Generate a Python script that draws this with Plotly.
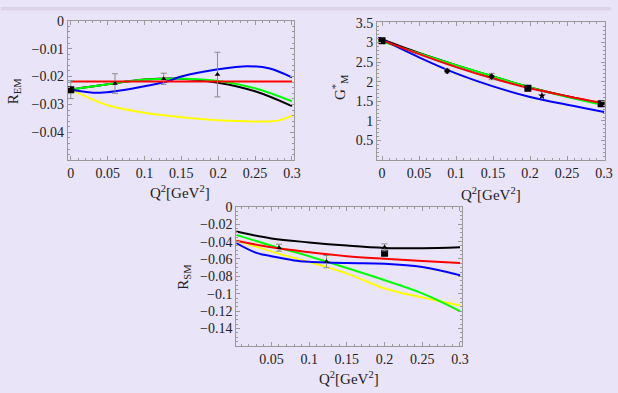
import plotly.graph_objects as go

# ---------------- data ----------------
# Panel 1: R_EM
q1 = [0, 0.05, 0.1, 0.15, 0.2, 0.25, 0.3]
rem_black = [-0.0247, -0.0228, -0.0211, -0.0208, -0.0222, -0.0253, -0.0306]
rem_green = [-0.0247, -0.0228, -0.0211, -0.0208, -0.0216, -0.0242, -0.0289]
q1_blue = [0, 0.04, 0.1, 0.13, 0.15, 0.2, 0.24, 0.27, 0.3]
rem_blue = [-0.0247, -0.0258, -0.0235, -0.0218, -0.0200, -0.0174, -0.0163, -0.0171, -0.0203]
q1_yellow = [0, 0.05, 0.1, 0.15, 0.2, 0.25, 0.28, 0.3]
rem_yellow = [-0.0247, -0.0303, -0.0330, -0.0346, -0.0357, -0.0361, -0.0358, -0.0340]
q1_red = [0, 0.3]
rem_red = [-0.0218, -0.0218]
rem_sq_q = [0]
rem_sq_v = [-0.0247]
rem_sq_err = [0.0032]
rem_tri_q = [0.06, 0.126, 0.199]
rem_tri_v = [-0.0225, -0.0208, -0.0193]
rem_tri_err = [0.0035, 0.0020, 0.0080]

# Panel 2: G*_M
q2 = [-0.005, 0.05, 0.1, 0.15, 0.2, 0.25, 0.3]
gm_black = [3.11, 2.73, 2.42, 2.13, 1.85, 1.63, 1.43]
gm_green = [3.05, 2.72, 2.42, 2.13, 1.85, 1.61, 1.40]
gm_red = [3.09, 2.70, 2.37, 2.08, 1.83, 1.63, 1.45]
gm_blue = [3.12, 2.62, 2.21, 1.88, 1.61, 1.41, 1.23]
gm_sq_q = [0, 0.197, 0.296]
gm_sq_v = [3.04, 1.83, 1.44]
gm_pt_q = [0.088, 0.148]
gm_pt_v = [2.27, 2.13]
gm_pt_err = [0.05, 0.08]
gm_star_q = [0.216]
gm_star_v = [1.64]

# Panel 3: R_SM
q3 = [0.0033, 0.05, 0.1, 0.15, 0.2, 0.25, 0.3]
rsm_black = [-0.0284, -0.0363, -0.0409, -0.0446, -0.0473, -0.0477, -0.0466]
rsm_red = [-0.0390, -0.0466, -0.0522, -0.0568, -0.0598, -0.0624, -0.0647]
rsm_green = [-0.0322, -0.0447, -0.0568, -0.0704, -0.0844, -0.0995, -0.1200]
rsm_yellow = [-0.0383, -0.0515, -0.0636, -0.0768, -0.0939, -0.1044, -0.1135]
q3_blue = [0.0033, 0.03, 0.05, 0.08, 0.1, 0.15, 0.2, 0.25, 0.3]
rsm_blue = [-0.0417, -0.0530, -0.0568, -0.0617, -0.0632, -0.0647, -0.0655, -0.0693, -0.0787]
rsm_tri_q = [0.06, 0.123, 0.2]
rsm_tri_v = [-0.047, -0.063, -0.0466]
rsm_tri_err = [0.004, 0.007, 0.004]
rsm_sq_q = [0.2]
rsm_sq_v = [-0.0534]

# tick labels
x_ticks_a = [0, 0.05, 0.1, 0.15, 0.2, 0.25, 0.3]
x_text_a = ["0", "0.05", "0.1", "0.15", "0.2", "0.25", "0.3"]
x_ticks_b = [0.05, 0.1, 0.15, 0.2, 0.25, 0.3]
x_text_b = ["0.05", "0.1", "0.15", "0.2", "0.25", "0.3"]
y1_ticks = [0, -0.01, -0.02, -0.03, -0.04]
y1_text = ["0", "\u22120.01", "\u22120.02", "\u22120.03", "\u22120.04"]
y2_ticks = [0.5, 1, 1.5, 2, 2.5, 3, 3.5]
y2_text = ["0.5", "1", "1.5", "2", "2.5", "3", "3.5"]
y3_ticks = [0, -0.02, -0.04, -0.06, -0.08, -0.1, -0.12, -0.14]
y3_text = ["0", "\u22120.02", "\u22120.04", "\u22120.06", "\u22120.08", "\u22120.1", "\u22120.12", "\u22120.14"]

# ---------------- style ----------------
W, H = 618, 393
BG = "#EAE4F8"
BAND = "#DCD3EB"
FRAME = "#9A9A9A"
SERIF = "Liberation Serif"
LW = 2

def px_x(a, b):
    return [a / W, b / W]

def px_y(top, bot):
    return [1 - bot / H, 1 - top / H]

fig = go.Figure()

def curve(x, y, color, ax):
    fig.add_trace(go.Scatter(x=x, y=y, mode="lines", line=dict(color=color, width=LW, shape="spline", smoothing=1.0),
                             xaxis="x" + ax, yaxis="y" + ax, showlegend=False, hoverinfo="skip"))

def points(x, y, symbol, size, ax, err=None):
    kw = {}
    if err is not None:
        kw["error_y"] = dict(type="data", array=err, visible=True, color="#8C8C8C", thickness=1, width=3)
    fig.add_trace(go.Scatter(x=x, y=y, mode="markers", marker=dict(symbol=symbol, size=size, color="black"),
                             xaxis="x" + ax, yaxis="y" + ax, showlegend=False, hoverinfo="skip", **kw))

# panel 1
curve(q1, rem_black, "black", "")
curve(q1_yellow, rem_yellow, "#FFFF00", "")
curve(q1, rem_green, "#00FF00", "")
curve(q1_blue, rem_blue, "#0000FF", "")
curve(q1_red, rem_red, "#FF0000", "")
points(rem_sq_q, rem_sq_v, "square", 7, "", rem_sq_err)
points(rem_tri_q, rem_tri_v, "triangle-up", 5, "", rem_tri_err)

# panel 2
curve(q2, gm_black, "black", "2")
curve(q2, gm_green, "#00FF00", "2")
curve(q2, gm_blue, "#0000FF", "2")
curve(q2, gm_red, "#FF0000", "2")
points(gm_sq_q, gm_sq_v, "square", 7, "2")
points(gm_pt_q, gm_pt_v, "diamond", 5, "2", gm_pt_err)
points(gm_star_q, gm_star_v, "star", 6, "2")

# panel 3
curve(q3, rsm_black, "black", "3")
curve(q3, rsm_yellow, "#FFFF00", "3")
curve(q3, rsm_green, "#00FF00", "3")
curve(q3_blue, rsm_blue, "#0000FF", "3")
curve(q3, rsm_red, "#FF0000", "3")
points(rsm_sq_q, rsm_sq_v, "square", 7, "3")
points(rsm_tri_q, rsm_tri_v, "triangle-up", 5, "3", rsm_tri_err)

def axis(domain, rng, tickvals, ticktext, minor_dtick, anchor):
    return dict(domain=domain, range=rng, tickvals=tickvals, ticktext=ticktext,
                showline=True, linecolor=FRAME, linewidth=1, mirror="allticks",
                ticks="inside", ticklen=4, tickcolor=FRAME, tickwidth=1,
                minor=dict(ticks="inside", ticklen=2, tickcolor=FRAME, dtick=minor_dtick, tick0=0),
                showgrid=False, zeroline=False, anchor=anchor,
                tickfont=dict(family=SERIF, size=14, color="#222222"))

fig.update_layout(
    width=W, height=H, margin=dict(l=0, r=0, t=0, b=0),
    paper_bgcolor=BG, plot_bgcolor=BG, showlegend=False,
    font=dict(family=SERIF),
    xaxis=axis(px_x(67.7, 297), [-0.004, 0.303], x_ticks_a, x_text_a, 0.01, "y"),
    yaxis=axis(px_y(14, 156), [-0.05, 0], y1_ticks, y1_text, 0.002, "x"),
    xaxis2=axis(px_x(381, 612), [-0.0067, 0.3013], x_ticks_a, x_text_a, 0.01, "y2"),
    yaxis2=axis(px_y(15, 156), [0, 3.525], y2_ticks, y2_text, 0.1, "x2"),
    xaxis3=axis(px_x(238.3, 467), [0.0033, 0.3026], x_ticks_b, x_text_b, 0.01, "y3"),
    yaxis3=axis(px_y(203.5, 345), [-0.16, 0], y3_ticks, y3_text, 0.005, "x3"),
)

fig.add_shape(type="rect", xref="paper", yref="paper", x0=0, x1=1, y0=1 - 3.5 / H, y1=1,
              fillcolor=BAND, line=dict(width=0), layer="below")

def label(text, x, y, angle=0):
    fig.add_annotation(text=text, x=x / W, y=1 - y / H, xref="paper", yref="paper", showarrow=False,
                       textangle=angle, font=dict(family=SERIF, size=15, color="#222222"),
                       xanchor="center", yanchor="middle")

XT = "Q<sup>2</sup>[GeV<sup>2</sup>]"
label(XT, 181.7, 188)
label(XT, 496.7, 190)
label(XT, 353, 378)
label("R<sub>EM</sub>", 14, 86, -90)
label("G<sup>*</sup><sub>M</sub>", 343, 82, -90)
label("R<sub>SM</sub>", 185, 275, -90)

fig.write_html("out.html", config={"displayModeBar": False},
               post_script="document.body.style.margin='0';document.body.style.padding='0';")
